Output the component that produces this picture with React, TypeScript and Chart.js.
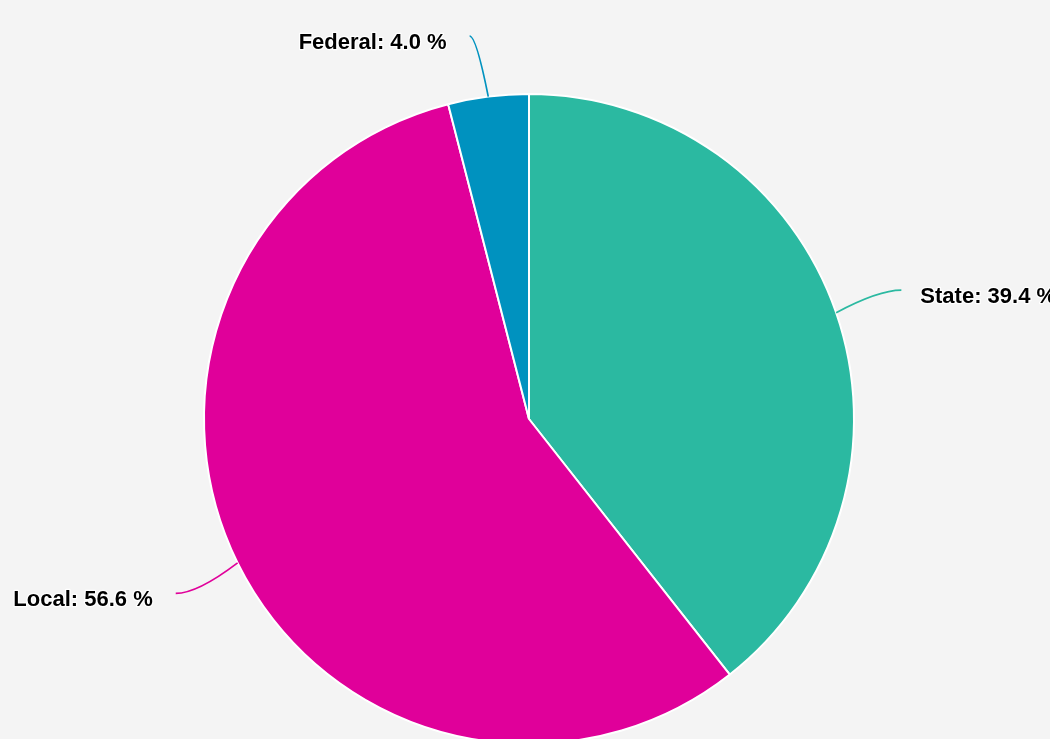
import React, { useEffect, useRef } from "react";
import { Chart, registerables } from "chart.js";

Chart.register(...registerables);

const categories = ["State", "Local", "Federal"];
const shares = [39.4, 56.6, 4.0];
const sliceColors = ["#2bb9a1", "#e0009a", "#0092bf"];

const labelPlugin = {
  id: "pieLabels",
  afterDraw(chart: any) {
    const ctx = chart.ctx;
    const meta = chart.getDatasetMeta(0);
    const minY = 36;
    meta.data.forEach((arc: any, i: number) => {
      const { x, y, startAngle, endAngle, outerRadius } = arc.getProps(
        ["x", "y", "startAngle", "endAngle", "outerRadius"],
        true
      );
      const mid = (startAngle + endAngle) / 2;
      const ex = x + Math.cos(mid) * outerRadius;
      const ey = y + Math.sin(mid) * outerRadius;
      const ar = outerRadius + 69;
      let ax = x + Math.cos(mid) * ar;
      let ay = y + Math.sin(mid) * ar;
      const right = ax >= x;
      if (ay < minY) {
        ay = minY;
        ax += right ? 10 : -10;
      }
      ctx.save();
      ctx.strokeStyle = sliceColors[i];
      ctx.lineWidth = 1.7;
      ctx.beginPath();
      ctx.moveTo(ex, ey);
      const cx = ax + (ex - ax) * 0.35;
      ctx.quadraticCurveTo(cx, ay, ax, ay);
      ctx.stroke();

      const text = `${categories[i]}: ${shares[i].toFixed(1)} %`;
      ctx.font = 'bold 22px "Liberation Sans", Arial, sans-serif';
      ctx.textBaseline = "alphabetic";
      ctx.textAlign = right ? "left" : "right";
      const tx = right ? ax + 19 : ax - 23;
      const ty = ay + 13;
      ctx.lineJoin = "round";
      ctx.strokeStyle = "#ffffff";
      ctx.lineWidth = 2.5;
      ctx.strokeText(text, tx, ty);
      ctx.fillStyle = "#000000";
      ctx.fillText(text, tx, ty);
      ctx.restore();
    });
  },
};

export default function App() {
  const ref = useRef<HTMLCanvasElement | null>(null);
  useEffect(() => {
    document.body.style.margin = "0";
    const chart = new Chart(ref.current as HTMLCanvasElement, {
      type: "pie",
      data: {
        labels: categories,
        datasets: [
          {
            data: shares,
            backgroundColor: sliceColors,
            borderColor: "#ffffff",
            borderWidth: 2,
          },
        ],
      },
      options: {
        responsive: false,
        animation: false,
        devicePixelRatio: 1,
        layout: { padding: { top: 93, bottom: 15, left: 203, right: 195 } },
        plugins: {
          legend: { display: false },
          tooltip: { enabled: false },
        },
      },
      plugins: [labelPlugin],
    } as any);
    return () => chart.destroy();
  }, []);
  return (
    <div
      style={{
        width: 1050,
        height: 739,
        overflow: "hidden",
        background: "#f4f4f4",
        position: "relative",
      }}
    >
      <canvas ref={ref} width={1050} height={760} style={{ display: "block" }} />
    </div>
  );
}
